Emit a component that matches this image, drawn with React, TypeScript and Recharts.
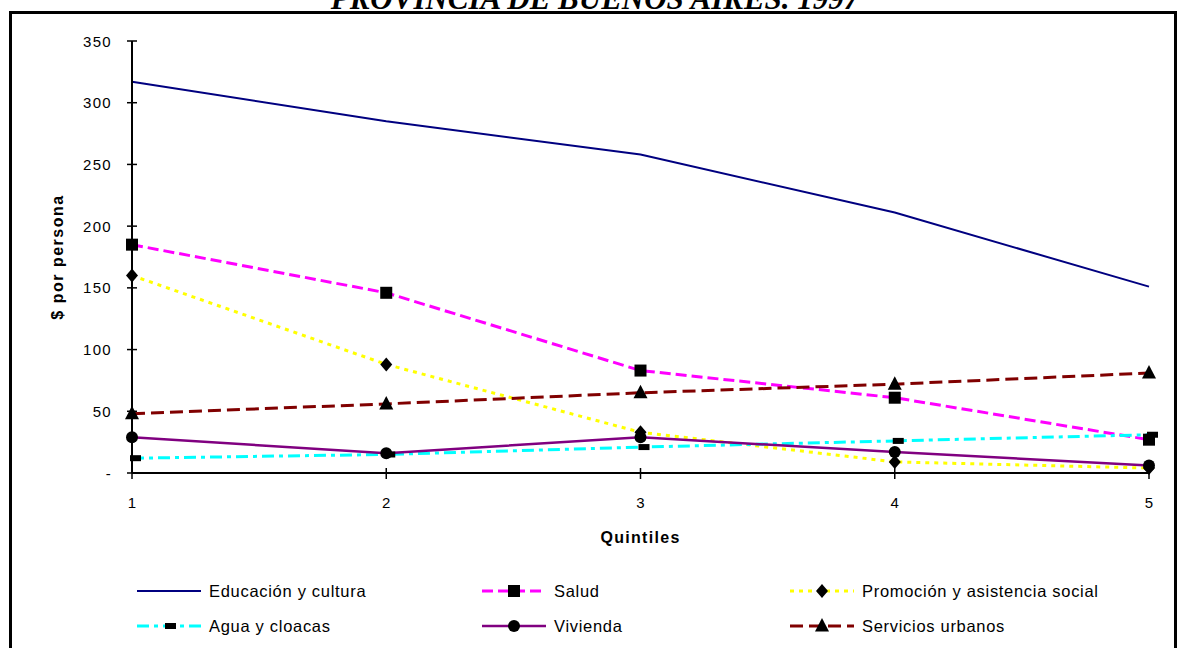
import React from 'react';
import { LineChart, Line, XAxis, YAxis, Label } from 'recharts';

// ---- data ----
const quintiles = [1, 2, 3, 4, 5];
const educacion = [317, 285, 258, 211, 151];
const salud = [185, 146, 83, 61, 27];
const promocion = [160, 88, 33, 9, 4];
const agua = [12, 15, 21, 26, 31];
const vivienda = [29, 16, 29, 17, 6];
const servicios = [48, 56, 65, 72, 81];

const yTicks = [0, 50, 100, 150, 200, 250, 300, 350];
const yTickLabels = ['-', '50', '100', '150', '200', '250', '300', '350'];
const xTicks = [1, 2, 3, 4, 5];

const titleText = 'PROVINCIA DE BUENOS AIRES. 1997';
const yAxisTitle = '$ por persona';
const xAxisTitle = 'Quintiles';

type Shape = 'none' | 'square' | 'diamond' | 'dash' | 'circle' | 'triangle';

const series: { key: string; name: string; color: string; dash?: string; width: number; shape: Shape; values: number[] }[] = [
  { key: 'educacion', name: 'Educación y cultura', color: '#000080', width: 2, shape: 'none', values: educacion },
  { key: 'salud', name: 'Salud', color: '#FF00FF', dash: '11 5', width: 3, shape: 'square', values: salud },
  { key: 'promocion', name: 'Promoción y asistencia social', color: '#FFFF00', dash: '4 5', width: 3, shape: 'diamond', values: promocion },
  { key: 'agua', name: 'Agua y cloacas', color: '#00FFFF', dash: '12 5 4 5', width: 3, shape: 'dash', values: agua },
  { key: 'vivienda', name: 'Vivienda', color: '#800080', width: 2.5, shape: 'circle', values: vivienda },
  { key: 'servicios', name: 'Servicios urbanos', color: '#800000', dash: '13 6', width: 3, shape: 'triangle', values: servicios },
];

const data = quintiles.map((q, i) => {
  const row: Record<string, number> = { q };
  series.forEach((s) => {
    row[s.key] = s.values[i];
  });
  return row;
});

const FONT = '"Liberation Sans", Arial, sans-serif';

function Marker({ shape, cx, cy }: { shape: Shape; cx: number; cy: number }) {
  const fill = '#000';
  switch (shape) {
    case 'square':
      return <rect x={cx - 6} y={cy - 6} width={12} height={12} fill={fill} />;
    case 'diamond':
      return <polygon points={`${cx},${cy - 7} ${cx + 6},${cy} ${cx},${cy + 7} ${cx - 6},${cy}`} fill={fill} />;
    case 'triangle':
      return <polygon points={`${cx},${cy - 8} ${cx + 7},${cy + 5.5} ${cx - 7},${cy + 5.5}`} fill={fill} />;
    case 'circle':
      return <circle cx={cx} cy={cy} r={6} fill={fill} />;
    case 'dash':
      return <rect x={cx - 2} y={cy - 3} width={11} height={6} fill={fill} />;
    default:
      return null;
  }
}

const TICK_SIZE = 5;
const Y_TICK_MARGIN = 16;
const X_TICK_MARGIN = 20;

const YTick = (props: any) => {
  const { x, y, payload, index } = props;
  const ax = x + TICK_SIZE + Y_TICK_MARGIN;
  const idx = yTicks.indexOf(payload.value);
  const label = idx >= 0 ? yTickLabels[idx] : String(payload.value);
  return (
    <g key={`yt-${index}`}>
      <line x1={ax - 5} x2={ax + 5} y1={y} y2={y} stroke="#000" strokeWidth={1.5} />
      <text x={x + 1} y={y} dy={5.5} textAnchor="end" fontFamily={FONT} fontSize={15} fill="#000" style={{ letterSpacing: '1.3px' }}>
        {label}
      </text>
    </g>
  );
};

const XTick = (props: any) => {
  const { x, y, payload, index } = props;
  const ay = y - TICK_SIZE - X_TICK_MARGIN;
  return (
    <g key={`xt-${index}`}>
      <line x1={x} x2={x} y1={ay - 5} y2={ay + 6} stroke="#000" strokeWidth={1.5} />
      <text x={x} y={y} dy={10} textAnchor="middle" fontFamily={FONT} fontSize={15} fill="#000">
        {payload.value}
      </text>
    </g>
  );
};

function LegendSample({ s }: { s: (typeof series)[number] }) {
  return (
    <svg width={64} height={18} style={{ display: 'block' }}>
      <line x1={0} x2={64} y1={9} y2={9} stroke={s.color} strokeWidth={s.width} strokeDasharray={s.dash} />
      <Marker shape={s.shape} cx={s.shape === 'dash' ? 30 : 32} cy={9} />
    </svg>
  );
}

const legendCols = [137, 482, 790];
const legendRows = [591, 626];

export default function App() {
  return (
    <div style={{ position: 'absolute', left: 0, top: 0, width: 1180, height: 648, overflow: 'hidden', background: '#fff' }}>
      <div
        style={{
          position: 'absolute',
          left: 0,
          width: 1180,
          top: -19,
          textAlign: 'center',
          fontFamily: '"Liberation Serif", "Times New Roman", serif',
          fontWeight: 'bold',
          fontStyle: 'italic',
          fontSize: 31,
          lineHeight: '36px',
          paddingLeft: 10,
          boxSizing: 'border-box',
          whiteSpace: 'nowrap',
        }}
      >
        {titleText}
      </div>
      <div
        style={{
          position: 'absolute',
          left: 9,
          top: 11,
          width: 1168,
          height: 700,
          border: '3px solid #000',
          boxSizing: 'border-box',
        }}
      />
      <div style={{ position: 'absolute', left: 0, top: 0 }}>
        <LineChart width={1180} height={648} data={data} margin={{ top: 41, right: 31, left: 0, bottom: 145 }}>
          <XAxis
            dataKey="q"
            type="number"
            domain={[1, 5]}
            ticks={xTicks}
            interval={0}
            height={30}
            tickSize={TICK_SIZE}
            tickMargin={X_TICK_MARGIN}
            tickLine={false}
            tick={<XTick />}
            axisLine={{ stroke: '#000', strokeWidth: 2 }}
          >
            <Label
              content={(p: any) => {
                const vb = p.viewBox;
                return (
                  <text
                    x={vb.x + vb.width / 2}
                    y={vb.y + 70}
                    textAnchor="middle"
                    fontFamily={FONT}
                    fontWeight="bold"
                    fontSize={16}
                    fill="#000"
                    style={{ letterSpacing: '1.3px' }}
                  >
                    {xAxisTitle}
                  </text>
                );
              }}
            />
          </XAxis>
          <YAxis
            type="number"
            domain={[0, 350]}
            ticks={yTicks}
            interval={0}
            width={132}
            tickSize={TICK_SIZE}
            tickMargin={Y_TICK_MARGIN}
            tickLine={false}
            tick={<YTick />}
            axisLine={{ stroke: '#000', strokeWidth: 2 }}
          >
            <Label
              content={(p: any) => {
                const vb = p.viewBox;
                const cx = vb.x + 63;
                const cy = vb.y + vb.height / 2;
                return (
                  <text
                    transform={`translate(${cx},${cy}) rotate(-90)`}
                    textAnchor="middle"
                    fontFamily={FONT}
                    fontWeight="bold"
                    fontSize={16}
                    fill="#000"
                    style={{ letterSpacing: '1.5px' }}
                  >
                    {yAxisTitle}
                  </text>
                );
              }}
            />
          </YAxis>
          {series.map((s) => (
            <Line
              key={s.key}
              type="linear"
              dataKey={s.key}
              name={s.name}
              stroke={s.color}
              strokeWidth={s.width}
              strokeDasharray={s.dash}
              isAnimationActive={false}
              activeDot={false}
              dot={(p: any) => (
                <g key={`${s.key}-${p.index}`}>
                  <Marker shape={s.shape} cx={p.cx} cy={p.cy} />
                </g>
              )}
            />
          ))}
        </LineChart>
      </div>
      {series.map((s, i) => {
        const col = i % 3;
        const row = Math.floor(i / 3);
        return (
          <div
            key={s.key}
            style={{
              position: 'absolute',
              left: legendCols[col],
              top: legendRows[row] - 11,
              height: 22,
              display: 'flex',
              alignItems: 'center',
              fontFamily: FONT,
              fontSize: 16.5,
              letterSpacing: '0.7px',
              whiteSpace: 'nowrap',
            }}
          >
            <LegendSample s={s} />
            <span style={{ marginLeft: 8 }}>{s.name}</span>
          </div>
        );
      })}
    </div>
  );
}
